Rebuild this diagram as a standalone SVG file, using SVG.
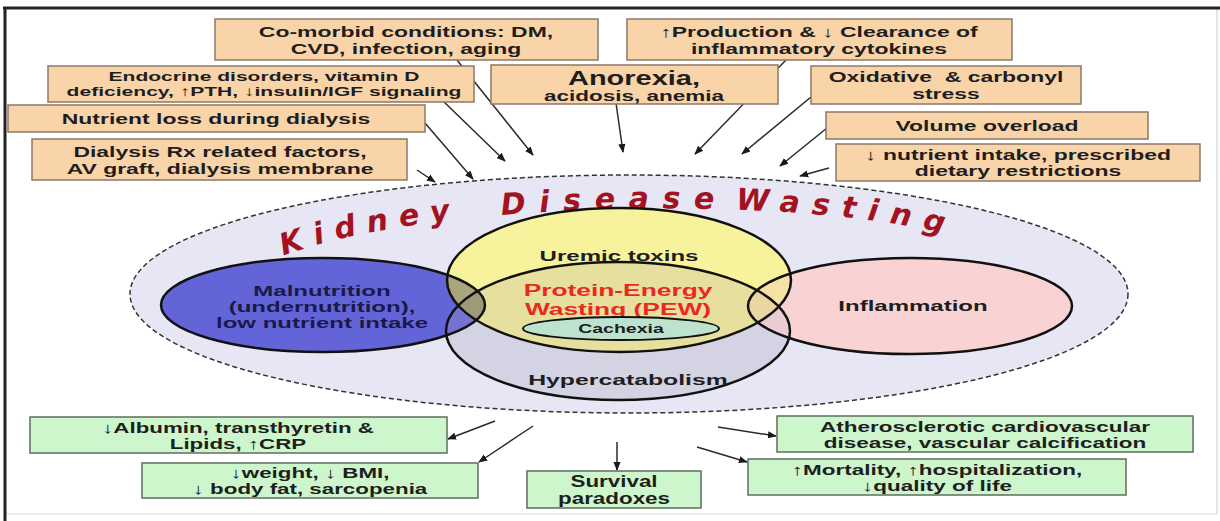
<svg xmlns="http://www.w3.org/2000/svg" width="1220" height="521" viewBox="0 0 1220 521">
<defs>
<style>
.ob{fill:#FAD4A9;stroke:#8A7A68;stroke-width:1.5}
.gb{fill:#CDF6CD;stroke:#5E6E5E;stroke-width:1.5}
.t{font-family:"Liberation Sans",Arial,sans-serif;font-weight:bold;fill:#1E1E1E;text-anchor:middle;font-size:15px}
.s{font-size:13.5px}
.v{font-size:15.5px}
.cn line{stroke:#2a2a2a;stroke-width:1.5;marker-end:url(#ah)}
.ol{fill:none;stroke:#111;stroke-width:2.5}
</style>
<marker id="ah" viewBox="0 0 10 10" refX="9" refY="5" markerWidth="9" markerHeight="9" markerUnits="userSpaceOnUse" orient="auto">
<path d="M0,1 L10,5 L0,9 z" fill="#1a1a1a"/>
</marker>
<ellipse id="eB" cx="323" cy="305" rx="162" ry="47"/>
<ellipse id="eU" cx="619" cy="280" rx="172" ry="72"/>
<ellipse id="eH" cx="618" cy="331" rx="172" ry="69"/>
<ellipse id="eP" cx="910" cy="306" rx="162" ry="48"/>
<clipPath id="cU"><use href="#eU"/></clipPath>
<clipPath id="cH"><use href="#eH"/></clipPath>
<path id="arc" d="M 278 258 C 420 200, 800 192, 960 238"/>
</defs>
<rect width="1220" height="521" fill="#fff"/>
<g id="frame">
<line x1="1217" y1="8" x2="1217" y2="514" stroke="#ddd" stroke-width="1.5"/>
<line x1="5" y1="514" x2="1217" y2="514" stroke="#e4e4e4" stroke-width="1.5"/>
<line x1="3" y1="8" x2="1220" y2="8" stroke="#222" stroke-width="3"/>
<line x1="5" y1="7" x2="5" y2="521" stroke="#222" stroke-width="3"/>
</g>

<g id="kdw">
<ellipse cx="629" cy="294" rx="499" ry="119" fill="#E6E6F5" stroke="#333" stroke-width="1.5" stroke-dasharray="5 3"/>
<text font-family="'DejaVu Sans','Liberation Sans',sans-serif" font-weight="bold" font-style="italic" font-size="30" fill="#A3121F" letter-spacing="11"><textPath href="#arc" startOffset="6">Kidney<tspan dx="40" letter-spacing="13.5">Disease</tspan><tspan dx="8" letter-spacing="12">Wasting</tspan></textPath></text>
</g>

<g id="venn">
<use href="#eB" fill="#6464D9"/>
<use href="#eP" fill="#F9D3D3"/>
<use href="#eH" fill="#D3D3E3"/>
<use href="#eB" fill="#7474CF" clip-path="url(#cH)"/>
<use href="#eP" fill="#E9CCD6" clip-path="url(#cH)"/>
<use href="#eU" fill="#F7F39C"/>
<use href="#eB" fill="#A9A57C" clip-path="url(#cU)"/>
<use href="#eP" fill="#F5E2A4" clip-path="url(#cU)"/>
<g clip-path="url(#cU)"><use href="#eH" fill="#E7DF9E"/><use href="#eB" fill="#9E9A78" clip-path="url(#cH)"/><use href="#eP" fill="#EAD6A2" clip-path="url(#cH)"/></g>
<use href="#eB" class="ol"/>
<use href="#eP" class="ol"/>
<use href="#eH" class="ol"/>
<use href="#eU" class="ol"/>
</g>
<g id="malnutrition">
<text class="t v" style="fill:#1A1A4A" transform="translate(322 296) scale(1.55 1)">Malnutrition</text>
<text class="t v" style="fill:#1A1A4A" transform="translate(322 312) scale(1.55 1)">(undernutrition),</text>
<text class="t v" style="fill:#1A1A4A" transform="translate(322 328) scale(1.55 1)">low nutrient intake</text>
</g>
<g id="inflammation">
<text class="t v" transform="translate(913 311) scale(1.55 1)">Inflammation</text>
</g>
<g id="uremic">
<text class="t v" transform="translate(619 261) scale(1.55 1)">Uremic toxins</text>
</g>
<g id="pew">
<text class="t" style="fill:#E82A1E;font-size:17px" transform="translate(618 296) scale(1.55 1)">Protein-Energy</text>
<text class="t" style="fill:#E82A1E;font-size:17px" transform="translate(618 315) scale(1.55 1)">Wasting (PEW)</text>
</g>
<g id="cachexia">
<ellipse cx="621" cy="328.5" rx="98" ry="11.5" fill="#BDE3CF" stroke="#111" stroke-width="2"/>
<text class="t" style="font-size:13px" transform="translate(621 333) scale(1.5 1)">Cachexia</text>
</g>
<g id="hypercatabolism">
<text class="t v" transform="translate(628 385) scale(1.6 1)">Hypercatabolism</text>
</g>

<g id="connectors" class="cn">
<line x1="417" y1="170" x2="435" y2="182"/>
<line x1="425" y1="123" x2="473" y2="179"/>
<line x1="442" y1="100" x2="505" y2="161"/>
<line x1="457" y1="60" x2="533" y2="155"/>
<line x1="616" y1="103" x2="623" y2="152"/>
<line x1="786" y1="60" x2="695" y2="154"/>
<line x1="811" y1="97" x2="742" y2="154"/>
<line x1="827" y1="128" x2="780" y2="166"/>
<line x1="829" y1="168" x2="800" y2="176"/>
<line x1="495" y1="421" x2="448" y2="439"/>
<line x1="533" y1="426" x2="479" y2="462"/>
<line x1="617" y1="442" x2="617" y2="470"/>
<line x1="718" y1="427" x2="776" y2="436"/>
<line x1="697" y1="447" x2="747" y2="462"/>
</g>

<g id="comorbid">
<rect class="ob" x="215" y="19" width="383" height="41"/>
<text class="t" transform="translate(406 37) scale(1.53 1)">Co-morbid conditions: DM,</text>
<text class="t" transform="translate(406 54) scale(1.53 1)">CVD, infection, aging</text>
</g>
<g id="production">
<rect class="ob" x="627" y="19" width="385" height="41"/>
<text class="t" transform="translate(819 37) scale(1.53 1)">↑Production &amp; ↓ Clearance of</text>
<text class="t" transform="translate(819 54) scale(1.53 1)">inflammatory cytokines</text>
</g>
<g id="endocrine">
<rect class="ob" x="48" y="66" width="426" height="36"/>
<text class="t s" transform="translate(264 81) scale(1.56 1)">Endocrine disorders, vitamin D</text>
<text class="t s" transform="translate(264 96) scale(1.56 1)">deficiency, ↑PTH, ↓insulin/IGF signaling</text>
</g>
<g id="anorexia">
<rect class="ob" x="491" y="65" width="287" height="39"/>
<text class="t" style="font-size:20px" transform="translate(634 85) scale(1.45 1)">Anorexia,</text>
<text class="t" transform="translate(634 101) scale(1.5 1)">acidosis, anemia</text>
</g>
<g id="oxidative">
<rect class="ob" x="811" y="66" width="270" height="38"/>
<text class="t" style="white-space:pre" transform="translate(946 82) scale(1.53 1)">Oxidative  &amp; carbonyl</text>
<text class="t" transform="translate(946 99) scale(1.53 1)">stress</text>
</g>
<g id="nutrientloss">
<rect class="ob" x="8" y="105" width="417" height="27"/>
<text class="t" transform="translate(216 124) scale(1.53 1)">Nutrient loss during dialysis</text>
</g>
<g id="volume">
<rect class="ob" x="826" y="112" width="322" height="27"/>
<text class="t" transform="translate(987 131) scale(1.53 1)">Volume overload</text>
</g>
<g id="dialysis">
<rect class="ob" x="32" y="139" width="375" height="41"/>
<text class="t" transform="translate(220 157) scale(1.53 1)">Dialysis Rx related factors,</text>
<text class="t" transform="translate(220 174) scale(1.53 1)">AV graft, dialysis membrane</text>
</g>
<g id="intake">
<rect class="ob" x="836" y="144" width="364" height="37"/>
<text class="t" transform="translate(1018 160) scale(1.53 1)">↓ nutrient intake, prescribed</text>
<text class="t" transform="translate(1018 176) scale(1.53 1)">dietary restrictions</text>
</g>

<g id="albumin">
<rect class="gb" x="30" y="417" width="417" height="36"/>
<text class="t" transform="translate(238 433) scale(1.49 1)">↓Albumin, transthyretin &amp;</text>
<text class="t" transform="translate(238 449) scale(1.49 1)">Lipids, ↑CRP</text>
</g>
<g id="weight">
<rect class="gb" x="142" y="463" width="336" height="35"/>
<text class="t" transform="translate(310 478) scale(1.49 1)">↓weight, ↓ BMI,</text>
<text class="t" transform="translate(310 494) scale(1.49 1)">↓ body fat, sarcopenia</text>
</g>
<g id="survival">
<rect class="gb" x="527" y="471" width="174" height="37"/>
<text class="t" style="font-size:16px" transform="translate(614 487) scale(1.4 1)">Survival</text>
<text class="t" style="font-size:16px" transform="translate(614 504) scale(1.4 1)">paradoxes</text>
</g>
<g id="athero">
<rect class="gb" x="777" y="416" width="416" height="36"/>
<text class="t" transform="translate(985 432) scale(1.5 1)">Atherosclerotic cardiovascular</text>
<text class="t" transform="translate(985 448) scale(1.5 1)">disease, vascular calcification</text>
</g>
<g id="mortality">
<rect class="gb" x="748" y="459" width="378" height="36"/>
<text class="t" transform="translate(937 475) scale(1.5 1)">↑Mortality, ↑hospitalization,</text>
<text class="t" transform="translate(937 491) scale(1.5 1)">↓quality of life</text>
</g>
</svg>
